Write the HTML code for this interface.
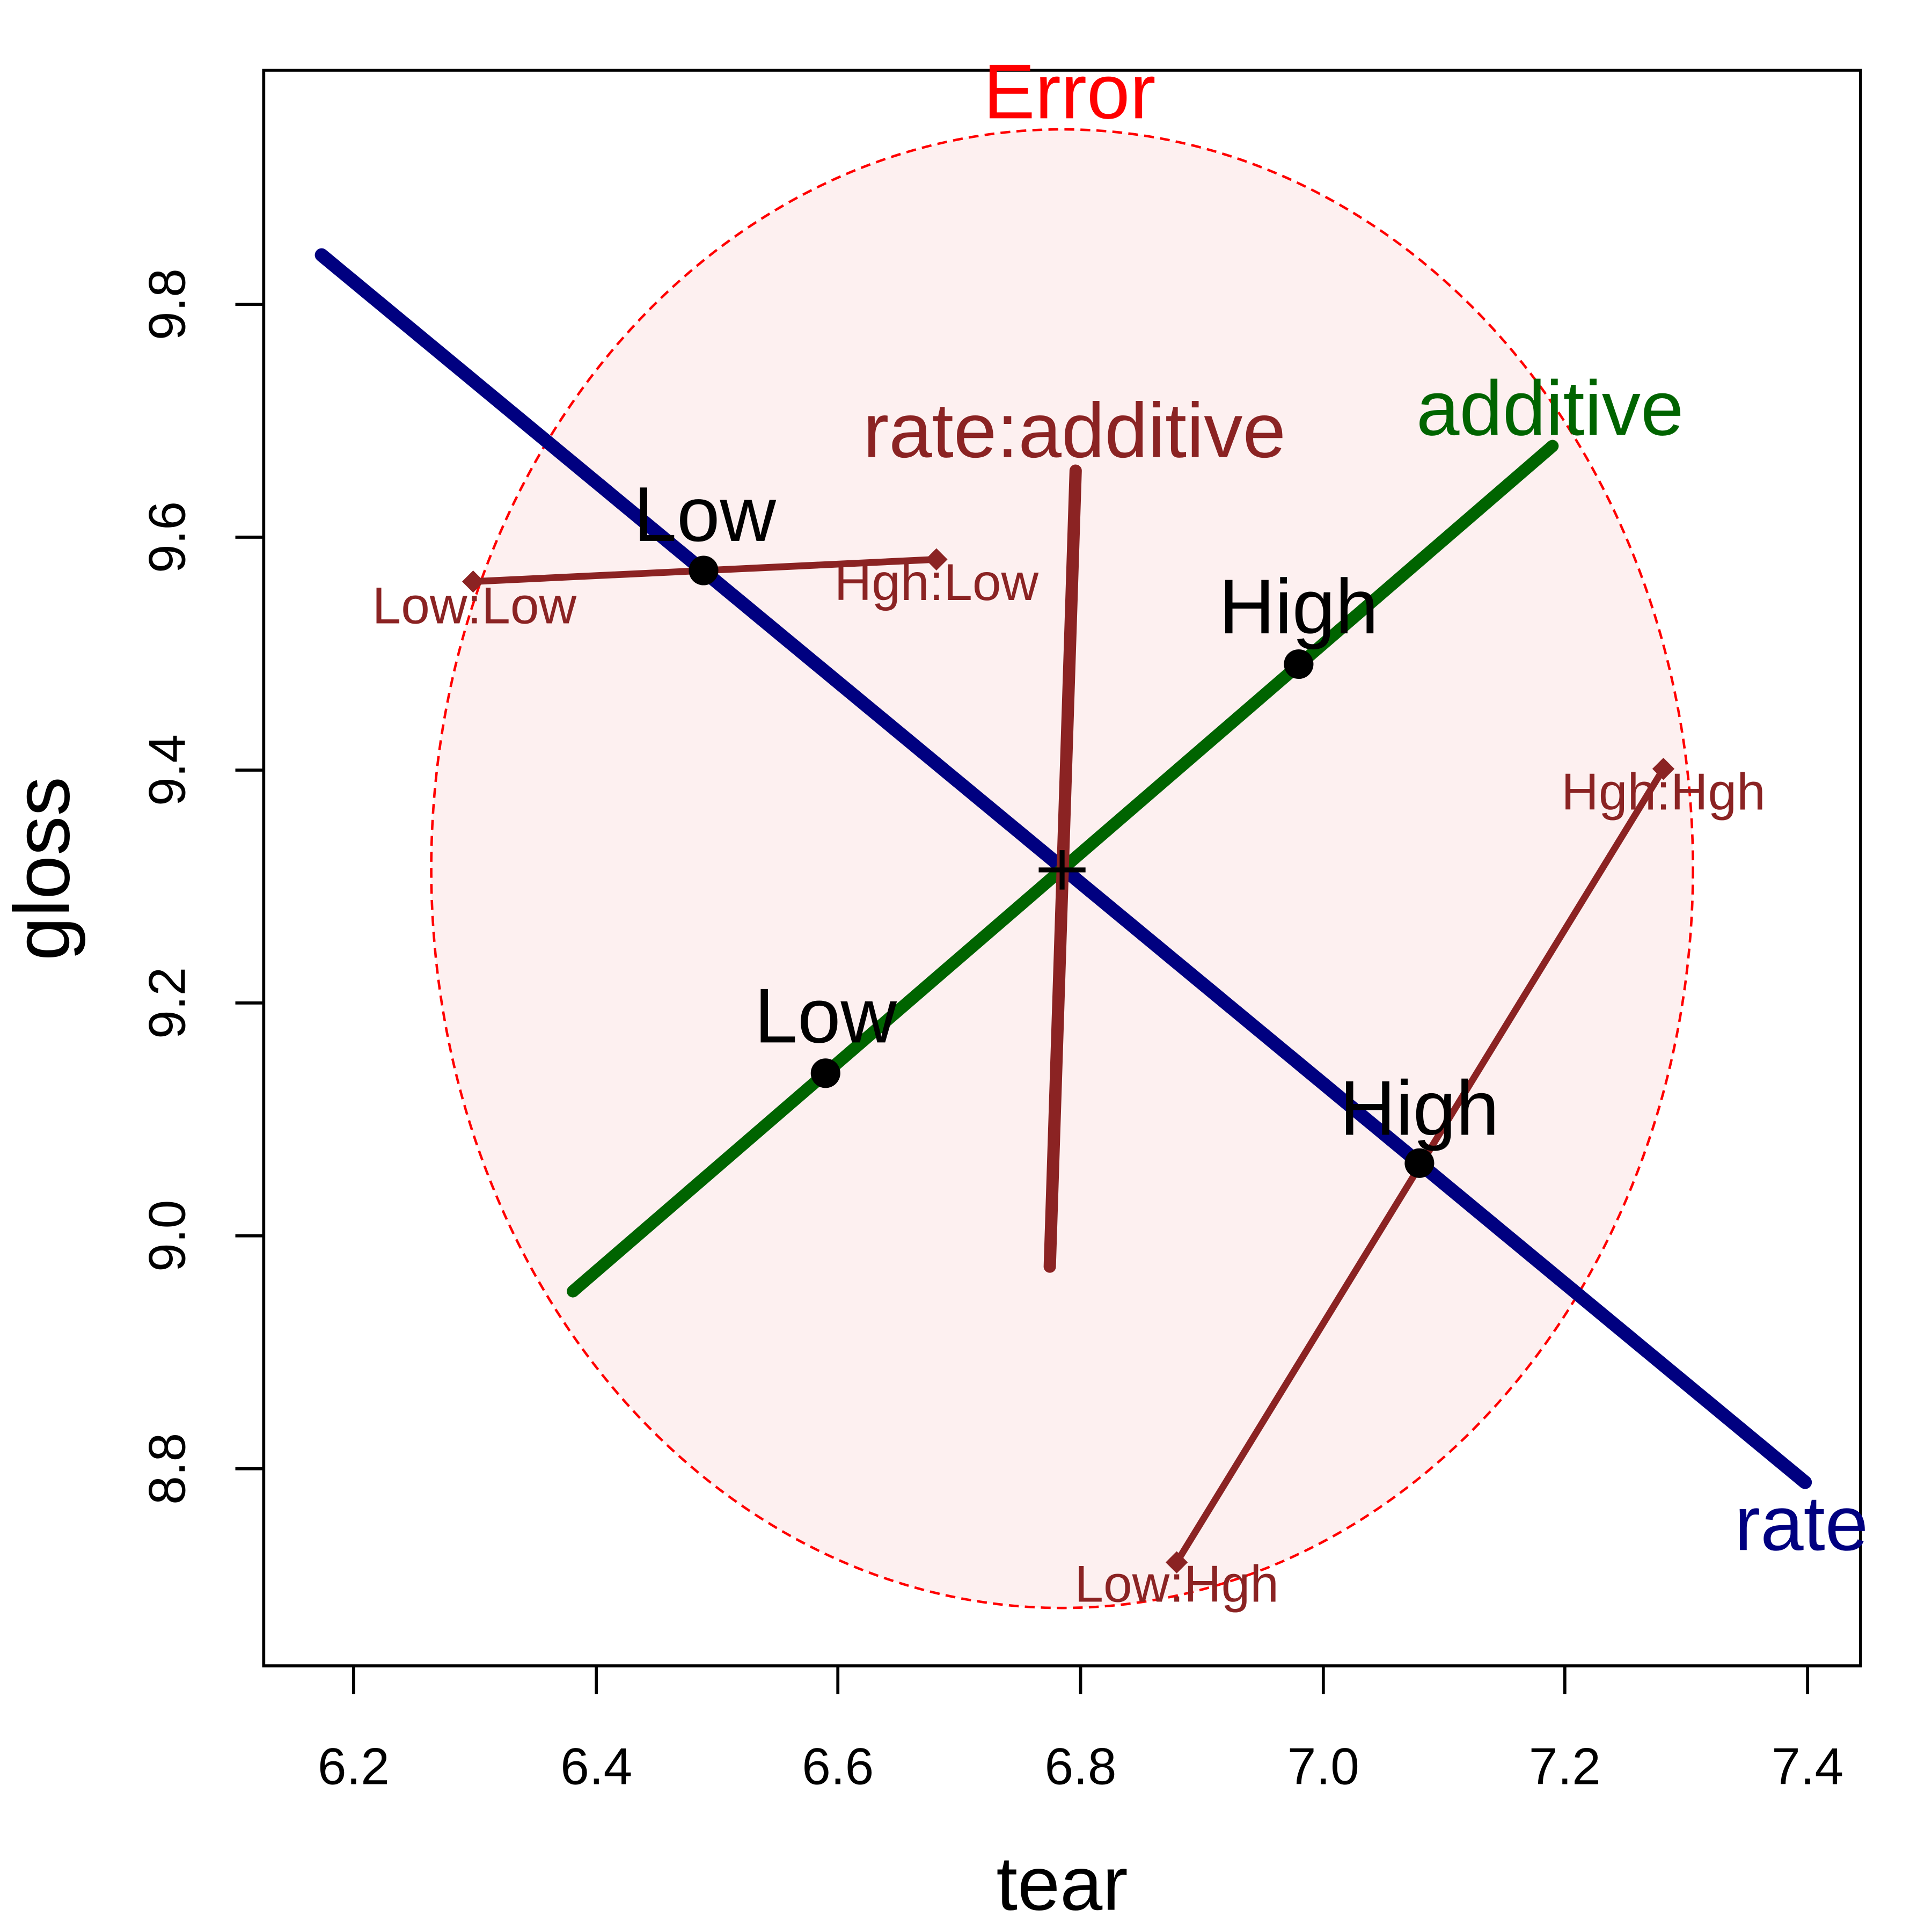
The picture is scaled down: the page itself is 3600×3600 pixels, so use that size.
<!DOCTYPE html>
<html><head><style>html,body{margin:0;padding:0;background:#fff}svg{display:block}</style></head><body>
<svg xmlns="http://www.w3.org/2000/svg" width="3600" height="3600" viewBox="0 0 1568 1568" font-family="Liberation Sans, Arial, sans-serif">
<rect width="1568" height="1568" fill="#fff"/>
<ellipse cx="862" cy="705" rx="512" ry="600" fill="#FDF0F0" stroke="#FF0000" stroke-width="2" stroke-dasharray="8,5"/>
<rect x="214" y="57" width="1296" height="1295" fill="none" stroke="#000" stroke-width="2.5"/>
<g stroke="#000" stroke-width="2.5">
<line x1="287" y1="1352" x2="287" y2="1375"/><line x1="484" y1="1352" x2="484" y2="1375"/><line x1="680" y1="1352" x2="680" y2="1375"/><line x1="877" y1="1352" x2="877" y2="1375"/><line x1="1074" y1="1352" x2="1074" y2="1375"/><line x1="1270" y1="1352" x2="1270" y2="1375"/><line x1="1467" y1="1352" x2="1467" y2="1375"/>
<line x1="214" y1="247" x2="191" y2="247"/><line x1="214" y1="436" x2="191" y2="436"/><line x1="214" y1="625" x2="191" y2="625"/><line x1="214" y1="814" x2="191" y2="814"/><line x1="214" y1="1003" x2="191" y2="1003"/><line x1="214" y1="1192" x2="191" y2="1192"/>
</g>
<g font-size="42" text-anchor="middle" fill="#000">
<text x="287" y="1448">6.2</text><text x="484" y="1448">6.4</text><text x="680" y="1448">6.6</text><text x="877" y="1448">6.8</text><text x="1074" y="1448">7.0</text><text x="1270" y="1448">7.2</text><text x="1467" y="1448">7.4</text>
<text transform="translate(150,247) rotate(-90)">9.8</text><text transform="translate(150,436) rotate(-90)">9.6</text><text transform="translate(150,625) rotate(-90)">9.4</text><text transform="translate(150,814) rotate(-90)">9.2</text><text transform="translate(150,1003) rotate(-90)">9.0</text><text transform="translate(150,1192) rotate(-90)">8.8</text>
</g>
<text x="862" y="1550" font-size="62" text-anchor="middle">tear</text>
<text transform="translate(56,705) rotate(-90)" font-size="64" text-anchor="middle">gloss</text>
<line x1="261" y1="207" x2="1465" y2="1203" stroke="#000080" stroke-width="11" stroke-linecap="round"/>
<line x1="465" y1="1048" x2="1260" y2="362" stroke="#006400" stroke-width="10" stroke-linecap="round"/>
<line x1="873" y1="382" x2="852" y2="1028" stroke="#8B2323" stroke-width="10" stroke-linecap="round"/>
<g stroke="#8B2323" stroke-width="5.5">
<line x1="384" y1="472" x2="760" y2="454"/><line x1="955" y1="1268" x2="1350" y2="624"/>
</g>
<g fill="#8B2323">
<path d="M384 463 l9 9 -9 9 -9 -9z"/><path d="M760 445 l9 9 -9 9 -9 -9z"/><path d="M955 1259 l9 9 -9 9 -9 -9z"/><path d="M1350 615 l9 9 -9 9 -9 -9z"/>
</g>
<g fill="#000"><circle cx="571" cy="463" r="12"/><circle cx="1054" cy="539" r="12"/><circle cx="670" cy="871" r="12"/><circle cx="1152" cy="944" r="12"/></g>
<path d="M843 706 h38 M862 690 v32" stroke="#000" stroke-width="4"/>
<g font-size="63" text-anchor="middle">
<text x="868" y="96" fill="#FF0000">Error</text>
<text x="872" y="371" fill="#8B2323">rate:additive</text>
<text x="1258" y="353" fill="#006400">additive</text>
<text x="1462" y="1258" fill="#000080">rate</text>
<text x="572" y="439">Low</text><text x="1054" y="514">High</text><text x="670" y="846">Low</text><text x="1152" y="921">High</text>
</g>
<g font-size="42" text-anchor="middle" fill="#8B2323">
<text x="385" y="506">Low:Low</text><text x="760" y="487">Hgh:Low</text><text x="1350" y="657">Hgh:Hgh</text><text x="955" y="1300">Low:Hgh</text>
</g>
</svg>
</body></html>
